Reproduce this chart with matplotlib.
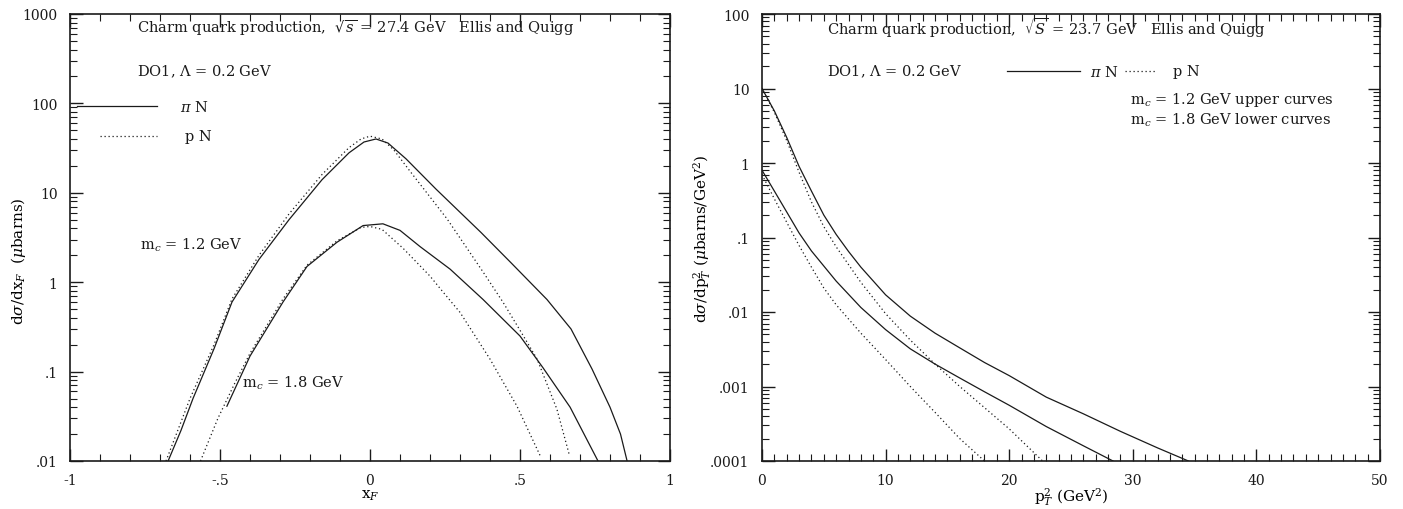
import matplotlib
matplotlib.use("Agg")
import matplotlib.pyplot as plt
from matplotlib.ticker import FixedLocator, MultipleLocator, LogLocator, NullFormatter

plt.rcParams['font.family'] = ['DejaVu Serif']
plt.rcParams['mathtext.fontset'] = 'dejavuserif'

# ---- left panel: d sigma / d x_F ----
xf_pin_12 = [-0.673, -0.63, -0.59, -0.52, -0.46, -0.37, -0.27, -0.16, -0.07, -0.02, 0.02,
             0.06, 0.12, 0.22, 0.37, 0.47, 0.59, 0.67, 0.74, 0.80, 0.835, 0.857]
ds_pin_12 = [0.01, 0.022, 0.05, 0.18, 0.6, 1.8, 5.0, 14, 28, 37, 40,
             36, 24, 11, 3.6, 1.65, 0.64, 0.3, 0.107, 0.04, 0.02, 0.01]

xf_pn_12 = [-0.68, -0.6, -0.52, -0.46, -0.37, -0.27, -0.16, -0.07, -0.03, 0.0, 0.04,
            0.08, 0.133, 0.257, 0.377, 0.443, 0.5, 0.557, 0.623, 0.665]
ds_pn_12 = [0.01, 0.05, 0.2, 0.65, 2.0, 5.8, 16, 32, 40, 43, 40,
            30, 17.5, 5.1, 1.3, 0.6, 0.29, 0.138, 0.038, 0.0115]

xf_pin_18 = [-0.477, -0.4, -0.29, -0.21, -0.11, -0.023, 0.043, 0.1, 0.167, 0.267,
             0.377, 0.5, 0.577, 0.667, 0.76]
ds_pin_18 = [0.041, 0.149, 0.6, 1.5, 2.8, 4.3, 4.5, 3.8, 2.5, 1.4,
             0.64, 0.25, 0.11, 0.04, 0.01]

xf_pn_18 = [-0.565, -0.507, -0.45, -0.4, -0.29, -0.21, -0.11, -0.03, 0.0, 0.04,
            0.11, 0.2, 0.243, 0.3, 0.4, 0.49, 0.567]
ds_pn_18 = [0.01, 0.03, 0.075, 0.16, 0.65, 1.55, 2.9, 4.1, 4.2, 3.9,
            2.4, 1.17, 0.78, 0.46, 0.138, 0.041, 0.0115]

# ---- right panel: d sigma / d pT^2 ----
pt2_pin_12 = [0, 1, 2, 3, 4, 5, 6, 7, 8, 10, 12, 14, 16, 18, 20, 23, 26, 29, 32, 34.5]
dp_pin_12 = [10, 5.0, 2.2, 0.9, 0.42, 0.2, 0.11, 0.065, 0.04, 0.017, 0.0088, 0.0052,
             0.0033, 0.0021, 0.0014, 0.00072, 0.00043, 0.00025, 0.00015, 0.0001]

pt2_pn_12 = [0, 1, 2, 3, 4, 5, 6, 8, 10, 12, 14, 16, 18, 20, 22.7]
dp_pn_12 = [10, 4.8, 2.0, 0.75, 0.3, 0.14, 0.075, 0.025, 0.0095, 0.0042, 0.002,
            0.001, 0.00052, 0.00027, 0.0001]

pt2_pin_18 = [0, 1, 2, 3, 4, 6, 8, 10, 12, 14, 16, 18, 20, 23, 26, 28.4]
dp_pin_18 = [0.8, 0.42, 0.22, 0.115, 0.066, 0.026, 0.0115, 0.0058, 0.0032, 0.002,
             0.0013, 0.00085, 0.00056, 0.00029, 0.00016, 0.0001]

pt2_pn_18 = [0, 1, 2, 3, 4, 5, 6, 8, 10, 12, 14, 16, 18]
dp_pn_18 = [0.7, 0.33, 0.16, 0.078, 0.04, 0.021, 0.0125, 0.0052, 0.0023, 0.001,
            0.00045, 0.0002, 0.0001]

left_yticks = [0.01, 0.1, 1, 10, 100, 1000]
left_ylabels = ['.01', '.1', '1', '10', '100', '1000']
left_xticks = [-1, -0.5, 0, 0.5, 1]
left_xlabels = ['-1', '-.5', '0', '.5', '1']
right_yticks = [0.0001, 0.001, 0.01, 0.1, 1, 10, 100]
right_ylabels = ['.0001', '.001', '.01', '.1', '1', '10', '100']
right_xticks = [0, 10, 20, 30, 40, 50]

ink = '#1a1a1a'
dots = (0, (1, 2.2))
fs = 10.5

fig = plt.figure(figsize=(14.03, 5.10), dpi=100)
axL = fig.add_axes([70/1403, 1-462/510, 600/1403, 447/510])
axR = fig.add_axes([762/1403, 1-462/510, 618/1403, 447/510])

def style(ax):
    ax.set_yscale('log')
    ax.tick_params(which='both', direction='in', top=True, right=True,
                   labelsize=10, colors=ink, pad=9)
    ax.tick_params(which='major', length=9, width=1)
    ax.tick_params(which='minor', length=5, width=0.8)
    ax.yaxis.set_minor_locator(LogLocator(base=10, subs=range(2, 10)))
    ax.yaxis.set_minor_formatter(NullFormatter())
    for s in ax.spines.values():
        s.set_linewidth(1.2)
        s.set_color(ink)

def note(ax, x, y, s):
    ax.text(x, y, s, transform=ax.transAxes, fontsize=fs, va='center', color=ink)

# left
style(axL)
axL.plot(xf_pin_12, ds_pin_12, color=ink, lw=0.9)
axL.plot(xf_pn_12, ds_pn_12, color=ink, lw=0.9, ls=dots)
axL.plot(xf_pin_18, ds_pin_18, color=ink, lw=0.9)
axL.plot(xf_pn_18, ds_pn_18, color=ink, lw=0.9, ls=dots)
axL.set_xlim(-1, 1)
axL.set_ylim(0.01, 1000)
axL.set_xticks(left_xticks)
axL.set_xticklabels(left_xlabels)
axL.xaxis.set_minor_locator(MultipleLocator(0.1))
axL.yaxis.set_major_locator(FixedLocator(left_yticks))
axL.set_yticklabels(left_ylabels)
axL.set_xlabel(r'x$_F$', fontsize=11, labelpad=0)
axL.set_ylabel(r'd$\sigma$/dx$_F$  ($\mu$barns)', fontsize=11)
axL.yaxis.set_label_coords(-0.07, 0.45)

note(axL, 0.112, 0.971, r'Charm quark production,  $\sqrt{s}$ = 27.4 GeV   Ellis and Quigg')
note(axL, 0.112, 0.872, r'DO1, $\Lambda$ = 0.2 GeV')
axL.plot([0.012, 0.145], [0.794, 0.794], transform=axL.transAxes, color=ink, lw=0.9)
note(axL, 0.183, 0.794, r'$\pi$ N')
axL.plot([0.05, 0.145], [0.727, 0.727], transform=axL.transAxes, color=ink, lw=0.9, ls=dots)
note(axL, 0.192, 0.727, 'p N')
note(axL, 0.117, 0.485, r'm$_c$ = 1.2 GeV')
note(axL, 0.287, 0.177, r'm$_c$ = 1.8 GeV')

# right
style(axR)
axR.plot(pt2_pin_12, dp_pin_12, color=ink, lw=0.9)
axR.plot(pt2_pn_12, dp_pn_12, color=ink, lw=0.9, ls=dots)
axR.plot(pt2_pin_18, dp_pin_18, color=ink, lw=0.9)
axR.plot(pt2_pn_18, dp_pn_18, color=ink, lw=0.9, ls=dots)
axR.set_xlim(0, 50)
axR.set_ylim(0.0001, 100)
axR.set_xticks(right_xticks)
axR.xaxis.set_minor_locator(MultipleLocator(1))
axR.yaxis.set_major_locator(FixedLocator(right_yticks))
axR.set_yticklabels(right_ylabels)
axR.set_xlabel(r'p$_T^2$ (GeV$^2$)', fontsize=11, labelpad=-2)
axR.set_ylabel(r'd$\sigma$/dp$_T^2$ ($\mu$barns/GeV$^2$)', fontsize=11)
axR.yaxis.set_label_coords(-0.08, 0.5)

note(axR, 0.105, 0.971, r'Charm quark production,  $\sqrt{S}$ = 23.7 GeV   Ellis and Quigg')
note(axR, 0.105, 0.872, r'DO1, $\Lambda$ = 0.2 GeV')
axR.plot([0.396, 0.515], [0.872, 0.872], transform=axR.transAxes, color=ink, lw=0.9)
note(axR, 0.531, 0.872, r'$\pi$ N')
axR.plot([0.587, 0.636], [0.872, 0.872], transform=axR.transAxes, color=ink, lw=0.9, ls=dots)
note(axR, 0.665, 0.872, 'p N')
note(axR, 0.595, 0.81, r'm$_c$ = 1.2 GeV upper curves')
note(axR, 0.595, 0.765, r'm$_c$ = 1.8 GeV lower curves')

fig.savefig('out.png', dpi=100)
